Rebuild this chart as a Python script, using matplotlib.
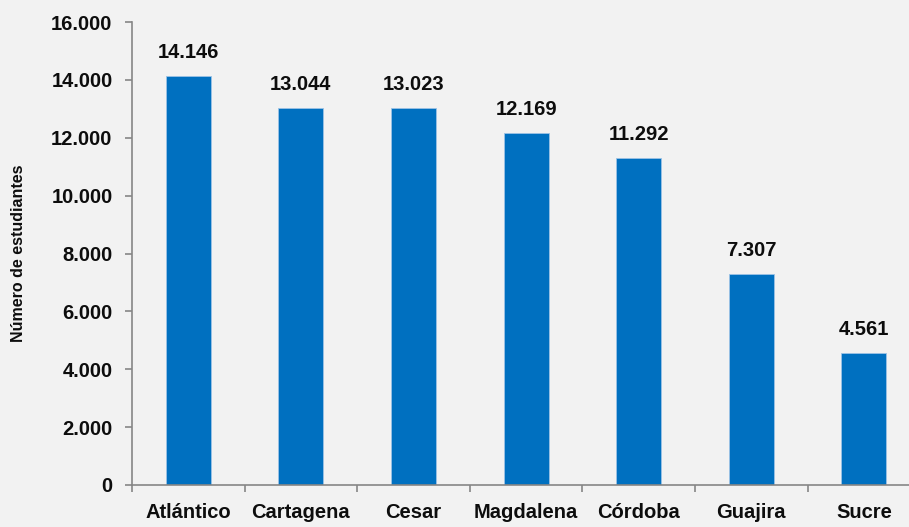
import matplotlib
matplotlib.use('Agg')
import matplotlib.pyplot as plt
from matplotlib.ticker import FuncFormatter, FixedLocator

plt.rcParams['font.family'] = ['Liberation Sans Narrow', 'Liberation Sans', 'DejaVu Sans']
plt.rcParams['font.weight'] = 'bold'

# data
departamentos = ['Atlántico', 'Cartagena', 'Cesar', 'Magdalena', 'Córdoba', 'Guajira', 'Sucre']
estudiantes = [14146, 13044, 13023, 12169, 11292, 7307, 4561]
yticks = [0, 2000, 4000, 6000, 8000, 10000, 12000, 14000, 16000]

bg = '#f2f2f2'
barcol = '#0070c0'
axcol = '#868686'

W, H = 909, 527
fig = plt.figure(figsize=(W / 100, H / 100), dpi=100, facecolor=bg)
# one category is ~112.6 px wide, left edge at x=132
step = 112.6
left = 132
ax = fig.add_axes([left / W, (H - 485) / H, (W - left) / W, (485 - 22) / H])
ax.set_facecolor(bg)

x = list(range(len(departamentos)))
ax.bar(x, estudiantes, width=0.4, color=barcol, edgecolor='#9dc3e6', linewidth=0.6, zorder=2)

for xi, v in zip(x, estudiantes):
    ax.annotate(f'{v:,}'.replace(',', '.'), (xi, v), xytext=(0, 10), textcoords='offset points',
                ha='center', va='bottom', fontsize=14.5, fontweight='bold', color='#0d0d0d')

ax.set_xlim(-0.5, (W - left) / step - 0.5)
ax.set_ylim(0, 16000)
ax.set_yticks(yticks)
ax.yaxis.set_major_formatter(FuncFormatter(lambda v, p: f'{int(v):,}'.replace(',', '.')))
ax.set_xticks(x)
ax.set_xticklabels(departamentos)
ax.xaxis.set_minor_locator(FixedLocator([i - 0.5 for i in range(len(departamentos) + 1)]))

ax.tick_params(axis='x', which='major', length=0, pad=13, labelsize=14.5, labelcolor='#0d0d0d')
ax.tick_params(axis='x', which='minor', length=5, width=1.2, color=axcol, direction='out')
ax.tick_params(axis='y', length=5, width=1.2, color=axcol, labelsize=14.5, labelcolor='#0d0d0d', pad=9)

for s in ['top', 'right']:
    ax.spines[s].set_visible(False)
for s in ['left', 'bottom']:
    ax.spines[s].set_color(axcol)
    ax.spines[s].set_linewidth(1.2)

ax.set_ylabel('Número de estudiantes', fontsize=11.5, fontweight='bold', color='#0d0d0d', labelpad=18)

fig.savefig('out.png', dpi=100, facecolor=bg)
